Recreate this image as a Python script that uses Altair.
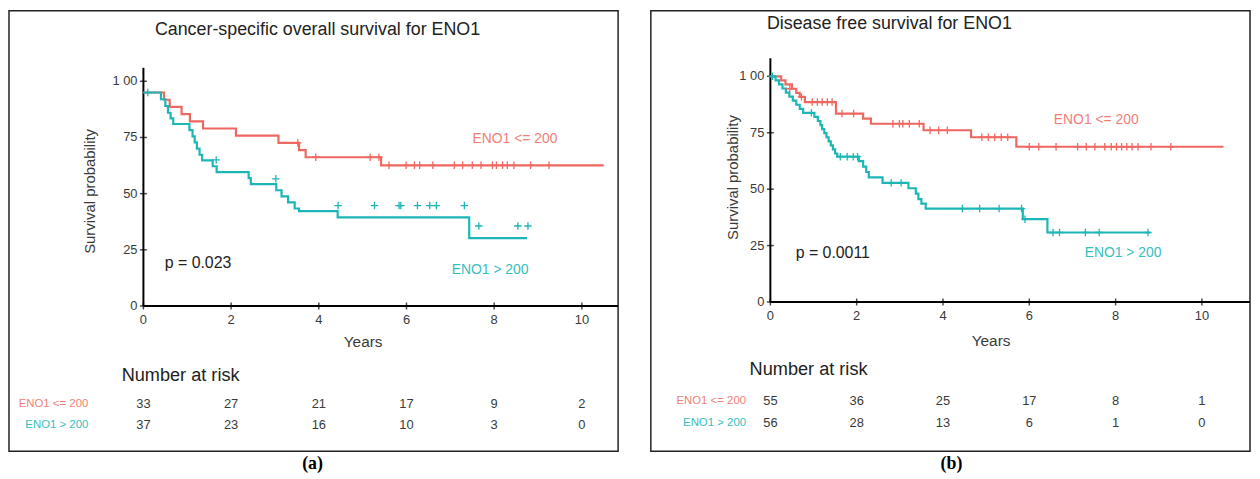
import altair as alt
import pandas as pd

# ---------------- data ----------------
tick_years = [0, 2, 4, 6, 8, 10]
tick_surv = [0, 25, 50, 75, 100]
tick_surv_labels = ["0", "25", "50", "75", "1 00"]
groups = ["ENO1 <= 200", "ENO1 > 200"]

# Panel (a): cancer-specific overall survival
a_low_t = [0, 0.47, 0.60, 0.87, 1.06, 1.36, 2.11, 3.08, 3.55, 3.70, 5.42, 10.50]
a_low_s = [95, 91.8, 88.6, 85.4, 82.2, 79.0, 75.8, 72.6, 69.4, 66.2, 62.6, 62.6]
a_low_ct = [3.52, 3.93, 5.17, 5.37, 5.60, 5.99, 6.18, 6.30, 6.60, 7.09, 7.28, 7.50,
            7.70, 7.96, 8.05, 8.19, 8.30, 8.45, 8.83, 9.25]
a_low_cs = [72.6, 66.2, 66.2, 66.2, 62.6, 62.6, 62.6, 62.6, 62.6, 62.6, 62.6, 62.6,
            62.6, 62.6, 62.6, 62.6, 62.6, 62.6, 62.6, 62.6]
a_high_t = [0, 0.40, 0.50, 0.56, 0.62, 0.68, 1.05, 1.12, 1.17, 1.22, 1.28, 1.34, 1.58,
            1.67, 2.40, 2.45, 3.03, 3.15, 3.30, 3.45, 3.55, 4.43, 7.43, 8.75]
a_high_s = [95, 92.0, 89.0, 86.0, 83.5, 81.0, 78.3, 75.5, 72.8, 70.0, 67.3, 64.8, 62.2,
            59.6, 56.9, 54.2, 51.5, 48.8, 46.1, 43.4, 42.2, 39.4, 30.2, 30.2]
a_high_ct = [0.10, 1.66, 3.02, 4.44, 5.27, 5.83, 5.87, 6.25, 6.53, 6.68, 7.32, 7.65, 8.54, 8.77]
a_high_cs = [95, 65.0, 56.6, 44.7, 44.7, 44.7, 44.7, 44.7, 44.7, 44.7, 44.7, 35.6, 35.6, 35.6]
a_risk_low = [33, 27, 21, 17, 9, 2]
a_risk_high = [37, 23, 16, 10, 3, 0]

# Panel (b): disease free survival
b_low_t = [0, 0.25, 0.35, 0.50, 0.60, 0.68, 0.80, 1.52, 2.15, 2.33, 3.55, 4.65, 5.70, 10.50]
b_low_s = [100, 98.2, 96.4, 94.5, 92.7, 90.9, 88.6, 83.5, 81.3, 79.0, 76.1, 73.0, 68.8, 68.8]
b_low_ct = [0.45, 0.72, 0.97, 1.09, 1.20, 1.32, 1.43, 1.66, 1.93, 2.84, 2.99, 3.07, 3.22,
            3.45, 3.70, 3.90, 4.10, 4.90, 5.05, 5.20, 5.35, 5.50, 6.00, 6.22, 6.62, 7.12,
            7.32, 7.52, 7.75, 7.90, 8.02, 8.14, 8.26, 8.38, 8.52, 8.82, 9.28]
b_low_cs = [94.5, 90.9, 88.6, 88.6, 88.6, 88.6, 88.6, 83.5, 83.5, 79.0, 79.0, 79.0, 79.0,
            79.0, 76.1, 76.1, 76.1, 73.0, 73.0, 73.0, 73.0, 73.0, 68.8, 68.8, 68.8, 68.8,
            68.8, 68.8, 68.8, 68.8, 68.8, 68.8, 68.8, 68.8, 68.8, 68.8, 68.8]
b_high_t = [0, 0.12, 0.20, 0.28, 0.36, 0.44, 0.52, 0.60, 0.68, 0.76, 1.02, 1.10, 1.16,
            1.20, 1.25, 1.30, 1.35, 1.40, 1.45, 1.50, 1.55, 2.05, 2.15, 2.22, 2.28, 2.60,
            3.20, 3.37, 3.43, 3.50, 3.60, 5.85, 6.42, 8.80]
b_high_s = [100, 98.2, 96.4, 94.6, 92.8, 91.0, 89.2, 87.4, 85.6, 83.8, 82.0, 80.2, 78.4,
            76.6, 74.8, 73.0, 71.2, 69.4, 67.6, 65.8, 64.4, 62.4, 60.0, 57.6, 55.2, 52.8,
            50.4, 48.0, 45.6, 43.6, 41.4, 36.7, 30.8, 30.8]
b_high_ct = [0.05, 0.95, 1.62, 1.78, 1.92, 2.02, 2.80, 3.03, 4.45, 4.85, 5.30, 5.82, 5.90,
             6.55, 6.70, 7.30, 7.62, 8.75]
b_high_cs = [100, 83.8, 64.4, 64.4, 64.4, 64.4, 52.8, 52.8, 41.4, 41.4, 41.4, 41.4, 36.7,
             30.8, 30.8, 30.8, 30.8, 30.8]
b_risk_low = [55, 36, 25, 17, 8, 1]
b_risk_high = [56, 28, 13, 6, 1, 0]

# ---------------- style ----------------
RED = "#EE6760"
TEAL = "#1CB6B6"
RED_TXT = "#F07F78"
TEAL_TXT = "#35C0C0"
INK = "#222222"
GREY = "#3a3a3a"
FONT = "Liberation Sans"
PLUS = "M-1,0H1M0,-1V1"


def panel(cfg):
    W, H = cfg["W"], cfg["H"]
    x0, pxyr, y0, pxpct = cfg["x0"], cfg["pxyr"], cfg["y0"], cfg["pxpct"]
    xdom = [-x0 / pxyr, (W - x0) / pxyr]
    ydom = [(y0 - H) / pxpct, y0 / pxpct]
    xs = alt.Scale(domain=xdom, nice=False, zero=False)
    ys = alt.Scale(domain=ydom, nice=False, zero=False)

    def X(f):
        return alt.X(f, type="quantitative", scale=xs, axis=None)

    def Y(f):
        return alt.Y(f, type="quantitative", scale=ys, axis=None)

    layers = []

    # axes lines
    yaxis = pd.DataFrame({"x": [0], "y": [0], "y2": [cfg["ytop"]]})
    layers.append(alt.Chart(yaxis).mark_rule(color="black", strokeWidth=2).encode(
        x=X("x"), y=Y("y"), y2="y2"))
    xaxis = pd.DataFrame({"x": [0], "x2": [xdom[1]], "y": [0]})
    layers.append(alt.Chart(xaxis).mark_rule(color="black", strokeWidth=2).encode(
        x=X("x"), x2="x2", y=Y("y")))

    # ticks
    xt = pd.DataFrame({"t": tick_years, "lab": [str(v) for v in tick_years]})
    layers.append(alt.Chart(xt).mark_tick(color="black", thickness=1.5, size=7,
                                          orient="vertical").encode(
        x=X("t"), y=Y("z")).transform_calculate(z="0"))
    layers.append(alt.Chart(xt).mark_text(font=FONT, fontSize=13, color=GREY,
                                          baseline="middle", dy=cfg["xlab_dy"]).encode(
        x=X("t"), y=Y("z"), text="lab:N").transform_calculate(z="0"))
    yt = pd.DataFrame({"s": tick_surv, "lab": tick_surv_labels})
    layers.append(alt.Chart(yt).mark_tick(color="black", thickness=1.5, size=7,
                                          orient="horizontal").encode(
        x=X("z"), y=Y("s")).transform_calculate(z="0"))
    layers.append(alt.Chart(yt).mark_text(font=FONT, fontSize=13, color=GREY,
                                          align="right", baseline="middle",
                                          dx=cfg["ylab_dx"]).encode(
        x=X("z"), y=Y("s"), text="lab:N").transform_calculate(z="0"))

    # survival curves
    for t, s, col in [(cfg["low_t"], cfg["low_s"], RED), (cfg["high_t"], cfg["high_s"], TEAL)]:
        df = pd.DataFrame({"t": t, "s": s})
        layers.append(alt.Chart(df).mark_line(interpolate="step-after", color=col,
                                              strokeWidth=2.2).encode(
            x=X("t"), y=Y("s"), order="t:Q"))
    for t, s, col in [(cfg["low_ct"], cfg["low_cs"], RED), (cfg["high_ct"], cfg["high_cs"], TEAL)]:
        df = pd.DataFrame({"t": t, "s": s})
        layers.append(alt.Chart(df).mark_point(shape=PLUS, filled=False, size=56,
                                               color=col, strokeWidth=1.3, opacity=1).encode(
            x=X("t"), y=Y("s")))

    # risk table numbers
    for vals, py in [(cfg["risk_low"], cfg["row1"]), (cfg["risk_high"], cfg["row2"])]:
        df = pd.DataFrame({"t": tick_years, "n": [str(v) for v in vals]})
        layers.append(alt.Chart(df).mark_text(font=FONT, fontSize=13, color=GREY,
                                              baseline="middle").encode(
            x=X("t"), y=alt.value(py), text="n:N"))

    # text annotations
    def txt(label, px, py, size, color=INK, align="center", angle=0, font=FONT, weight="normal"):
        df = pd.DataFrame({"label": [label]})
        return alt.Chart(df).mark_text(font=font, fontSize=size, color=color, align=align,
                                       baseline="middle", angle=angle,
                                       fontWeight=weight).encode(
            x=alt.value(px), y=alt.value(py), text="label:N")

    for item in cfg["texts"]:
        layers.append(txt(*item[:4], **item[4]))

    return alt.layer(*layers).properties(width=W, height=H)


cfg_a = dict(
    W=614, H=444, x0=135.5, pxyr=44.2, y0=297.5, pxpct=2.265, ytop=106,
    xlab_dy=14, ylab_dx=-6,
    low_t=a_low_t, low_s=a_low_s, high_t=a_high_t, high_s=a_high_s,
    low_ct=a_low_ct, low_cs=a_low_cs, high_ct=a_high_ct, high_cs=a_high_cs,
    risk_low=a_risk_low, risk_high=a_risk_high, row1=396, row2=417,
    texts=[
        ("Cancer-specific overall  survival  for ENO1", 311, 19, 18, {}),
        ("Survival probability", 82, 182, 15, dict(angle=270, color=GREY)),
        ("Years", 357, 334, 15.5, dict(color=GREY)),
        ("p = 0.023", 157, 254, 16, dict(align="left")),
        (groups[0], 510, 129, 14, dict(color=RED_TXT)),
        (groups[1], 485, 261, 14, dict(color=TEAL_TXT)),
        ("Number at risk", 173, 368, 18.3, {}),
        (groups[0], 80, 396, 11.5, dict(color=RED_TXT, align="right")),
        (groups[1], 80, 417, 11.5, dict(color=TEAL_TXT, align="right")),
        ("(a)", 306, 457, 18, dict(font="Liberation Serif", weight="bold", color="black")),
    ],
)

cfg_b = dict(
    W=604, H=444, x0=120.5, pxyr=43.5, y0=293.5, pxpct=2.275, ytop=108,
    xlab_dy=14, ylab_dx=-6,
    low_t=b_low_t, low_s=b_low_s, high_t=b_high_t, high_s=b_high_s,
    low_ct=b_low_ct, low_cs=b_low_cs, high_ct=b_high_ct, high_cs=b_high_cs,
    risk_low=b_risk_low, risk_high=b_risk_high, row1=393, row2=415,
    texts=[
        ("Disease free survival for ENO1", 117, 13, 18, dict(align="left")),
        ("Survival probability", 83, 168, 15, dict(angle=270, color=GREY)),
        ("Years", 343, 333, 15.5, dict(color=GREY)),
        ("p = 0.0011", 146, 244, 16, dict(align="left")),
        (groups[0], 449, 110, 14, dict(color=RED_TXT)),
        (groups[1], 476, 244, 14, dict(color=TEAL_TXT)),
        ("Number at risk", 159, 362, 18.3, {}),
        (groups[0], 96, 393, 11.5, dict(color=RED_TXT, align="right")),
        (groups[1], 96, 415, 11.5, dict(color=TEAL_TXT, align="right")),
        ("(b)", 303, 457, 18, dict(font="Liberation Serif", weight="bold", color="black")),
    ],
)

chart = alt.hconcat(panel(cfg_a), panel(cfg_b), spacing=30).properties(
    padding=0, background="white"
).configure_view(stroke="#222222", strokeWidth=1.5)

chart.save("out.html", embed_options={"renderer": "svg", "actions": False})
